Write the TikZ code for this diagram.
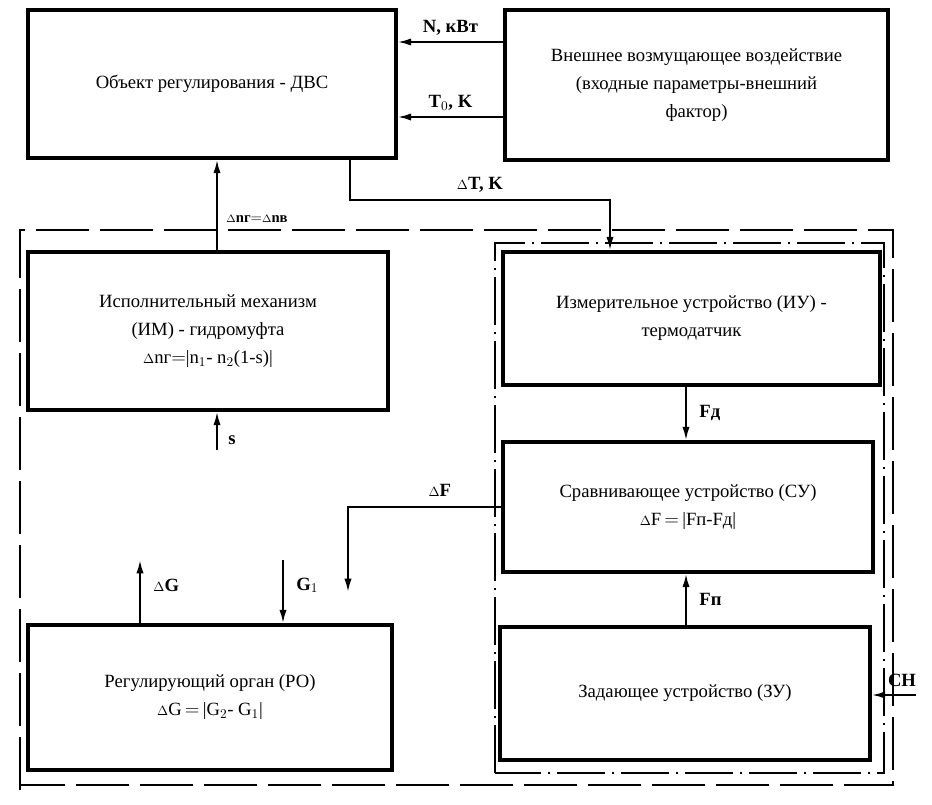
\documentclass[tikz,border=0pt]{standalone}
\usepackage{fontspec}
\setmainfont{Liberation Serif}
\usetikzlibrary{arrows.meta}
\begin{document}
\begin{tikzpicture}[x=0.75pt,y=-0.75pt,
  blk/.style={draw,line width=2.8pt,inner sep=0pt,align=center,font=\fontsize{14}{21}\selectfont},
  arr/.style={line width=1.5pt,-{Latex[length=10pt,width=5.5pt]}},
  lab/.style={font=\fontsize{14}{16}\selectfont\bfseries}]
\useasboundingbox (0,0) rectangle (932,804);
\node[blk,minimum width=368*0.75pt,minimum height=148*0.75pt] (obj) at (212,84) {Объект регулирования - ДВС};
\node[blk,minimum width=383*0.75pt,minimum height=150*0.75pt] (ext) at (696.5,85) {Внешнее возмущающее воздействие\\(входные параметры-внешний\\фактор)};
\node[blk,minimum width=360*0.75pt,minimum height=158*0.75pt] (im) at (208,331) {Исполнительный механизм\\(ИМ) - гидромуфта\\$\scriptstyle\Delta$nг$=$|n$_1$- n$_2$(1-s)|};
\node[blk,minimum width=377*0.75pt,minimum height=133*0.75pt] (iu) at (691.5,318.5) {Измерительное устройство (ИУ) -\\термодатчик};
\node[blk,minimum width=370*0.75pt,minimum height=130*0.75pt] (su) at (688,507) {Сравнивающее устройство (СУ)\\$\scriptstyle\Delta$F$\,=\,$|Fп-Fд|};
\node[blk,minimum width=370*0.75pt,minimum height=133*0.75pt] (zu) at (685,693.5) {Задающее устройство (ЗУ)};
\node[blk,minimum width=364*0.75pt,minimum height=145*0.75pt] (ro) at (210,697.5) {Регулирующий орган (РО)\\$\scriptstyle\Delta$G$\,=\,$|G$_2$- G$_1$|};
% dashed frames
\draw[line width=2pt,dash pattern=on 40pt off 8pt] (20,790) -- (20,230) -- (893,230) -- (893,785) -- (20,785);
\draw[line width=1.8pt,dash pattern=on 36pt off 5pt on 2pt off 5pt] (495,773) -- (495,243) -- (884,243) -- (884,773) -- cycle;
% connectors
\draw[arr] (ext.west|-0,42) -- (obj.east|-0,42) node[lab,midway,above=1pt] {N, кВт};
\draw[arr] (ext.west|-0,117) -- (obj.east|-0,117) node[lab,midway,above=1pt] {T$_0$, K};
\draw[arr] (im.north-|217,0) -- (obj.south-|217,0) node[lab,pos=0.35,right=3pt,font=\fontsize{11}{12}\selectfont\bfseries] {$\scriptstyle\Delta$nг$=$$\scriptstyle\Delta$nв};
\coordinate (t1) at (350,200); \coordinate (t2) at (610,200);
\draw[arr] (obj.south-|350,0) -- (t1) -- (t2) node[lab,midway,above=2pt] {$\scriptstyle\Delta$T, K} -- (iu.north-|610,0);
\coordinate (s0) at (217,450);
\draw[arr] (s0) -- (im.south-|217,0);
\node[lab] (sl) at (232,440) {s};
\draw[arr] (iu.south-|686,0) -- (su.north-|686,0) node[lab,midway,right=6pt] {Fд};
\draw[arr] (zu.north-|686,0) -- (su.south-|686,0) node[lab,midway,right=6pt] {Fп};
\coordinate (f1) at (348,507);
\coordinate (f2) at (348,592);
\draw[arr] (su.west) -- (f1) node[lab,pos=0.4,above=4pt] {$\scriptstyle\Delta$F} -- (f2);
\coordinate (g0) at (140,560);
\draw[arr] (ro.north-|140,0) -- (g0) node[lab,pos=0.6,right=6pt] {$\scriptstyle\Delta$G};
\coordinate (g1) at (283,560);
\draw[arr] (g1) -- (ro.north-|283,0) node[lab,pos=0.4,right=6pt] {G$_1$};
\coordinate (ch) at (916,695);
\draw[arr] (ch) -- (zu.east|-ch);
\node[lab] (chl) at (902,680) {СН};
\end{tikzpicture}
\end{document}
